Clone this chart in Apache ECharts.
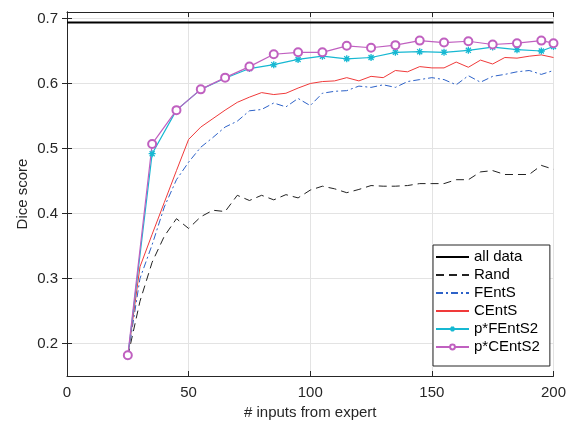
<!DOCTYPE html>
<html>
<head>
<meta charset="utf-8">
<script src="https://cdn.jsdelivr.net/npm/echarts@6/dist/echarts.min.js"></script>
<style>
  html, body { margin: 0; padding: 0; background: #fff; }
  #chart { width: 569px; height: 430px; }
</style>
</head>
<body>
<div id="chart"></div>
<script>
// Number of expert inputs at which each method was evaluated
const xDense = [25, 30, 35, 40, 45, 50, 55, 60, 65, 70, 75, 80, 85, 90, 95, 100,
  105, 110, 115, 120, 125, 130, 135, 140, 145, 150, 155, 160, 165, 170, 175,
  180, 185, 190, 195, 200];
const xSparse = [25, 35, 45, 55, 65, 75, 85, 95, 105, 115, 125, 135, 145, 155,
  165, 175, 185, 195, 200];

// Reference: model trained on all data
const allDataX = [0, 200];
const allData = [0.694, 0.694];

const rand = [0.180, 0.265, 0.325, 0.365, 0.392, 0.377, 0.395, 0.405, 0.403, 0.428,
  0.420, 0.428, 0.421, 0.429, 0.424, 0.436, 0.442, 0.438, 0.432, 0.437, 0.443,
  0.442, 0.442, 0.443, 0.446, 0.446, 0.446, 0.452, 0.452, 0.464, 0.466, 0.460,
  0.460, 0.460, 0.474, 0.468];

const fEntS = [0.180, 0.300, 0.352, 0.410, 0.452, 0.479, 0.502, 0.517, 0.533, 0.542,
  0.558, 0.560, 0.570, 0.564, 0.577, 0.566, 0.585, 0.588, 0.589, 0.596, 0.594,
  0.598, 0.594, 0.603, 0.606, 0.609, 0.606, 0.598, 0.612, 0.602, 0.611, 0.614,
  0.618, 0.620, 0.614, 0.620];

const cEntS = [0.180, 0.318, 0.368, 0.417, 0.466, 0.514, 0.533, 0.546, 0.559, 0.571,
  0.579, 0.586, 0.583, 0.585, 0.593, 0.600, 0.603, 0.604, 0.609, 0.604, 0.611,
  0.609, 0.620, 0.618, 0.626, 0.624, 0.624, 0.633, 0.625, 0.636, 0.630, 0.640,
  0.639, 0.642, 0.644, 0.640];

const pFEntS2 = [0.180, 0.492, 0.559, 0.591, 0.608, 0.623, 0.629, 0.637, 0.642,
  0.638, 0.640, 0.648, 0.649, 0.648, 0.651, 0.656, 0.652, 0.650, 0.657];

const pCEntS2 = [0.182, 0.507, 0.559, 0.591, 0.609, 0.626, 0.645, 0.648, 0.648,
  0.658, 0.655, 0.659, 0.666, 0.663, 0.665, 0.660, 0.662, 0.666, 0.662];

const xTicks = [0, 50, 100, 150, 200];
const yTicks = [0.2, 0.3, 0.4, 0.5, 0.6, 0.7];

const pair = (xs, ys) => xs.map((x, i) => [x, ys[i]]);

const FONT = '"Liberation Sans", Arial, Helvetica, sans-serif';
const AXIS_COLOR = '#262626';
const GRID_COLOR = '#e3e3e3';
const asterisk = 'path://M0,-5L0,5M-5,0L5,0M-3.6,-3.6L3.6,3.6M-3.6,3.6L3.6,-3.6';

const chart = echarts.init(document.getElementById('chart'), null, { renderer: 'canvas' });

const yBase = {
  type: 'value', min: 0.15, max: 0.71,
  axisLine: { show: true, lineStyle: { color: AXIS_COLOR, width: 1 } },
  axisTick: { show: true, inside: true, length: 5, customValues: yTicks,
    lineStyle: { color: AXIS_COLOR } }
};
const xBase = {
  type: 'value', min: 0, max: 200, interval: 50,
  axisLine: { show: true, lineStyle: { color: AXIS_COLOR, width: 1 } },
  axisTick: { show: true, inside: true, length: 5, lineStyle: { color: AXIS_COLOR } }
};

// Line-only legend entries: hide the marker drawn in the legend icon
const plainEntry = name => ({ name: name, itemStyle: { opacity: 0 } });

chart.setOption({
  animation: false,
  backgroundColor: '#fff',
  grid: { left: 67, top: 12, width: 489, height: 364, containLabel: false },
  xAxis: [
    Object.assign({}, xBase, {
      position: 'bottom',
      name: '# inputs from expert', nameLocation: 'middle', nameGap: 29,
      nameTextStyle: { fontFamily: FONT, fontSize: 15, color: AXIS_COLOR },
      axisLabel: { show: true, margin: 9, fontFamily: FONT, fontSize: 15, color: AXIS_COLOR },
      splitLine: { show: true, lineStyle: { color: GRID_COLOR, width: 1 } }
    }),
    Object.assign({}, xBase, {
      position: 'top', axisLabel: { show: false }, splitLine: { show: false }
    })
  ],
  yAxis: [
    Object.assign({}, yBase, {
      position: 'left',
      name: 'Dice score', nameLocation: 'middle', nameGap: 37, nameMoveOverlap: false,
      nameTextStyle: { fontFamily: FONT, fontSize: 15, color: AXIS_COLOR },
      axisLabel: { show: true, margin: 9, fontFamily: FONT, fontSize: 15, color: AXIS_COLOR,
        customValues: yTicks, formatter: v => v.toFixed(1) },
      splitLine: { show: true, lineStyle: { color: GRID_COLOR, width: 1 } }
    }),
    Object.assign({}, yBase, {
      position: 'right', axisLabel: { show: false, customValues: yTicks }, splitLine: { show: false }
    })
  ],
  legend: {
    orient: 'vertical', left: 433, top: 245,
    itemWidth: 33, itemHeight: 6, itemGap: 0,
    padding: [3, 10, 10, 2],
    backgroundColor: '#fff', borderColor: AXIS_COLOR, borderWidth: 1, borderRadius: 0,
    textStyle: { fontFamily: FONT, fontSize: 15, color: '#000', lineHeight: 18 },
    data: [plainEntry('all data'), plainEntry('Rand'), plainEntry('FEntS'),
      plainEntry('CEntS'), 'p*FEntS2', 'p*CEntS2']
  },
  series: [
    {
      name: 'all data', type: 'line', symbol: 'none',
      data: pair(allDataX, allData),
      lineStyle: { color: '#000', width: 2 }, itemStyle: { color: '#000' }
    },
    {
      name: 'Rand', type: 'line', symbol: 'none',
      data: pair(xDense, rand),
      lineStyle: { color: '#222', width: 1, type: [8, 5] }, itemStyle: { color: '#222' }
    },
    {
      name: 'FEntS', type: 'line', symbol: 'none',
      data: pair(xDense, fEntS),
      lineStyle: { color: '#2d62c8', width: 1, type: [7, 3, 2, 3] }, itemStyle: { color: '#2d62c8' }
    },
    {
      name: 'CEntS', type: 'line', symbol: 'none',
      data: pair(xDense, cEntS),
      lineStyle: { color: '#f03a3a', width: 1 }, itemStyle: { color: '#f03a3a' }
    },
    {
      name: 'p*FEntS2', type: 'line', symbol: asterisk, symbolSize: 7,
      data: pair(xSparse, pFEntS2),
      lineStyle: { color: '#16b8d2', width: 1.2 },
      itemStyle: { color: '#16b8d2', borderColor: '#16b8d2', borderWidth: 1.3 }
    },
    {
      name: 'p*CEntS2', type: 'line', symbol: 'emptyCircle', symbolSize: 8,
      data: pair(xSparse, pCEntS2),
      lineStyle: { color: '#c060c0', width: 1.2 },
      itemStyle: { color: '#c060c0', borderColor: '#c060c0', borderWidth: 1 }
    }
  ]
});
</script>
</body>
</html>
